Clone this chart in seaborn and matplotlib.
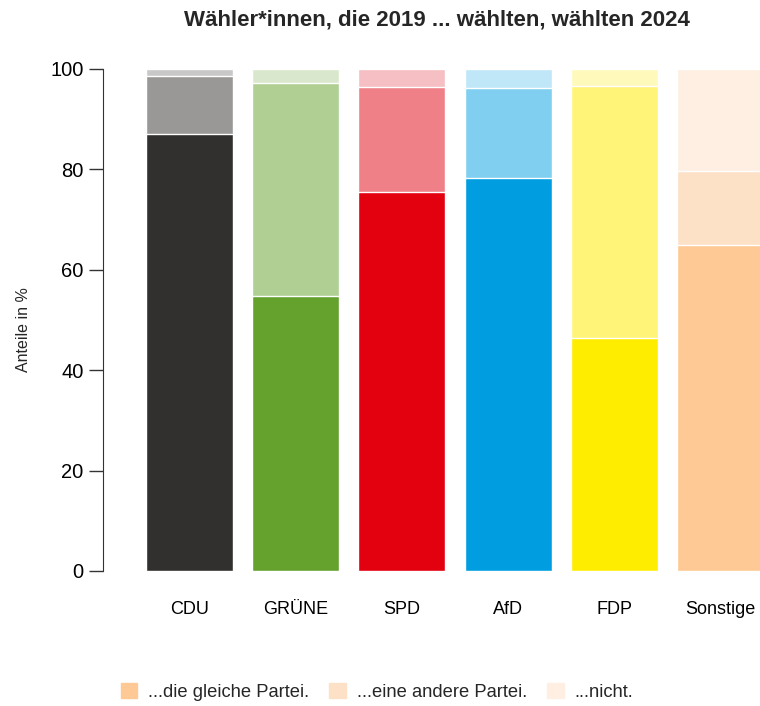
import matplotlib
matplotlib.use('Agg')
from matplotlib import pyplot as plt
from matplotlib.patches import Patch
import numpy as np
import pandas as pd
import seaborn as sns

parteien = ['CDU', 'GRÜNE', 'SPD', 'AfD', 'FDP', 'Sonstige']
gleiche = [87.0, 54.8, 75.5, 78.2, 46.4, 64.9]
andere = [11.6, 42.5, 21.0, 18.0, 50.2, 14.8]
nicht = [1.4, 2.7, 3.5, 3.8, 3.4, 20.3]
legende = ['...die gleiche Partei.', '...eine andere Partei.', '...nicht.']

farben_dunkel = ['#32302e', '#64a12d', '#e3000f', '#009ee0', '#ffed00', '#fec994']
farben_mittel = ['#9a9896', '#b0cf93', '#f08088', '#80cff0', '#fff478', '#fde1c6']
farben_hell = ['#c8c8c8', '#d9e8cc', '#f6bfc3', '#c0e7f7', '#fff9bc', '#feefe2']

sns.set_style('white')
plt.rcParams['font.family'] = ['Liberation Sans', 'DejaVu Sans']

df = pd.DataFrame({'partei': parteien, 'gleiche': gleiche,
                   'andere': andere, 'nicht': nicht})
df['stufe2'] = df.gleiche + df.andere
df['stufe3'] = df.stufe2 + df.nicht

fig = plt.figure(figsize=(7.6, 7.06), dpi=100)
ax = fig.add_axes([103 / 760, (706 - 571) / 706, (760 - 103) / 760, 502 / 706])

# gestapelt: erst Gesamthöhe, dann darüber die kleineren Summen
for spalte, farben in [('stufe3', farben_hell), ('stufe2', farben_mittel), ('gleiche', farben_dunkel)]:
    sns.barplot(data=df, x='partei', y=spalte, hue='partei', palette=farben,
                legend=False, width=0.82, edgecolor='white', linewidth=1,
                saturation=1, ax=ax)

ax.set_xlim(-0.815, 5.372)
ax.set_ylim(0, 100)
ax.set_xlabel('')
ax.set_ylabel('Anteile in %', fontsize=11.5)
ax.yaxis.set_label_coords(-0.109, 0.48)
ax.set_yticks([0, 20, 40, 60, 80, 100])
sns.despine(ax=ax, bottom=True, right=True, top=True)
ax.spines['left'].set_color('#333333')
ax.tick_params(axis='y', left=True, length=10, width=1, labelsize=14.5, pad=4, colors='#333333')
ax.tick_params(axis='x', bottom=False, labelsize=13, pad=18)
for lbl in ax.get_yticklabels() + ax.get_xticklabels():
    lbl.set_color('black')

fig.text(437 / 760, 1 - 20 / 706, 'Wähler*innen, die 2019 ... wählten, wählten 2024',
         ha='center', va='center', fontsize=16, fontweight='bold')

handles = [Patch(color=c) for c in ['#fec994', '#fde1c6', '#feefe2']]
fig.legend(handles, legende, ncol=3, frameon=False, loc='center',
           bbox_to_anchor=(377 / 760, 1 - 692 / 706), fontsize=13.2,
           handlelength=0.9, handleheight=0.9, columnspacing=1.1, handletextpad=0.6)

fig.savefig('out.png', dpi=100)
